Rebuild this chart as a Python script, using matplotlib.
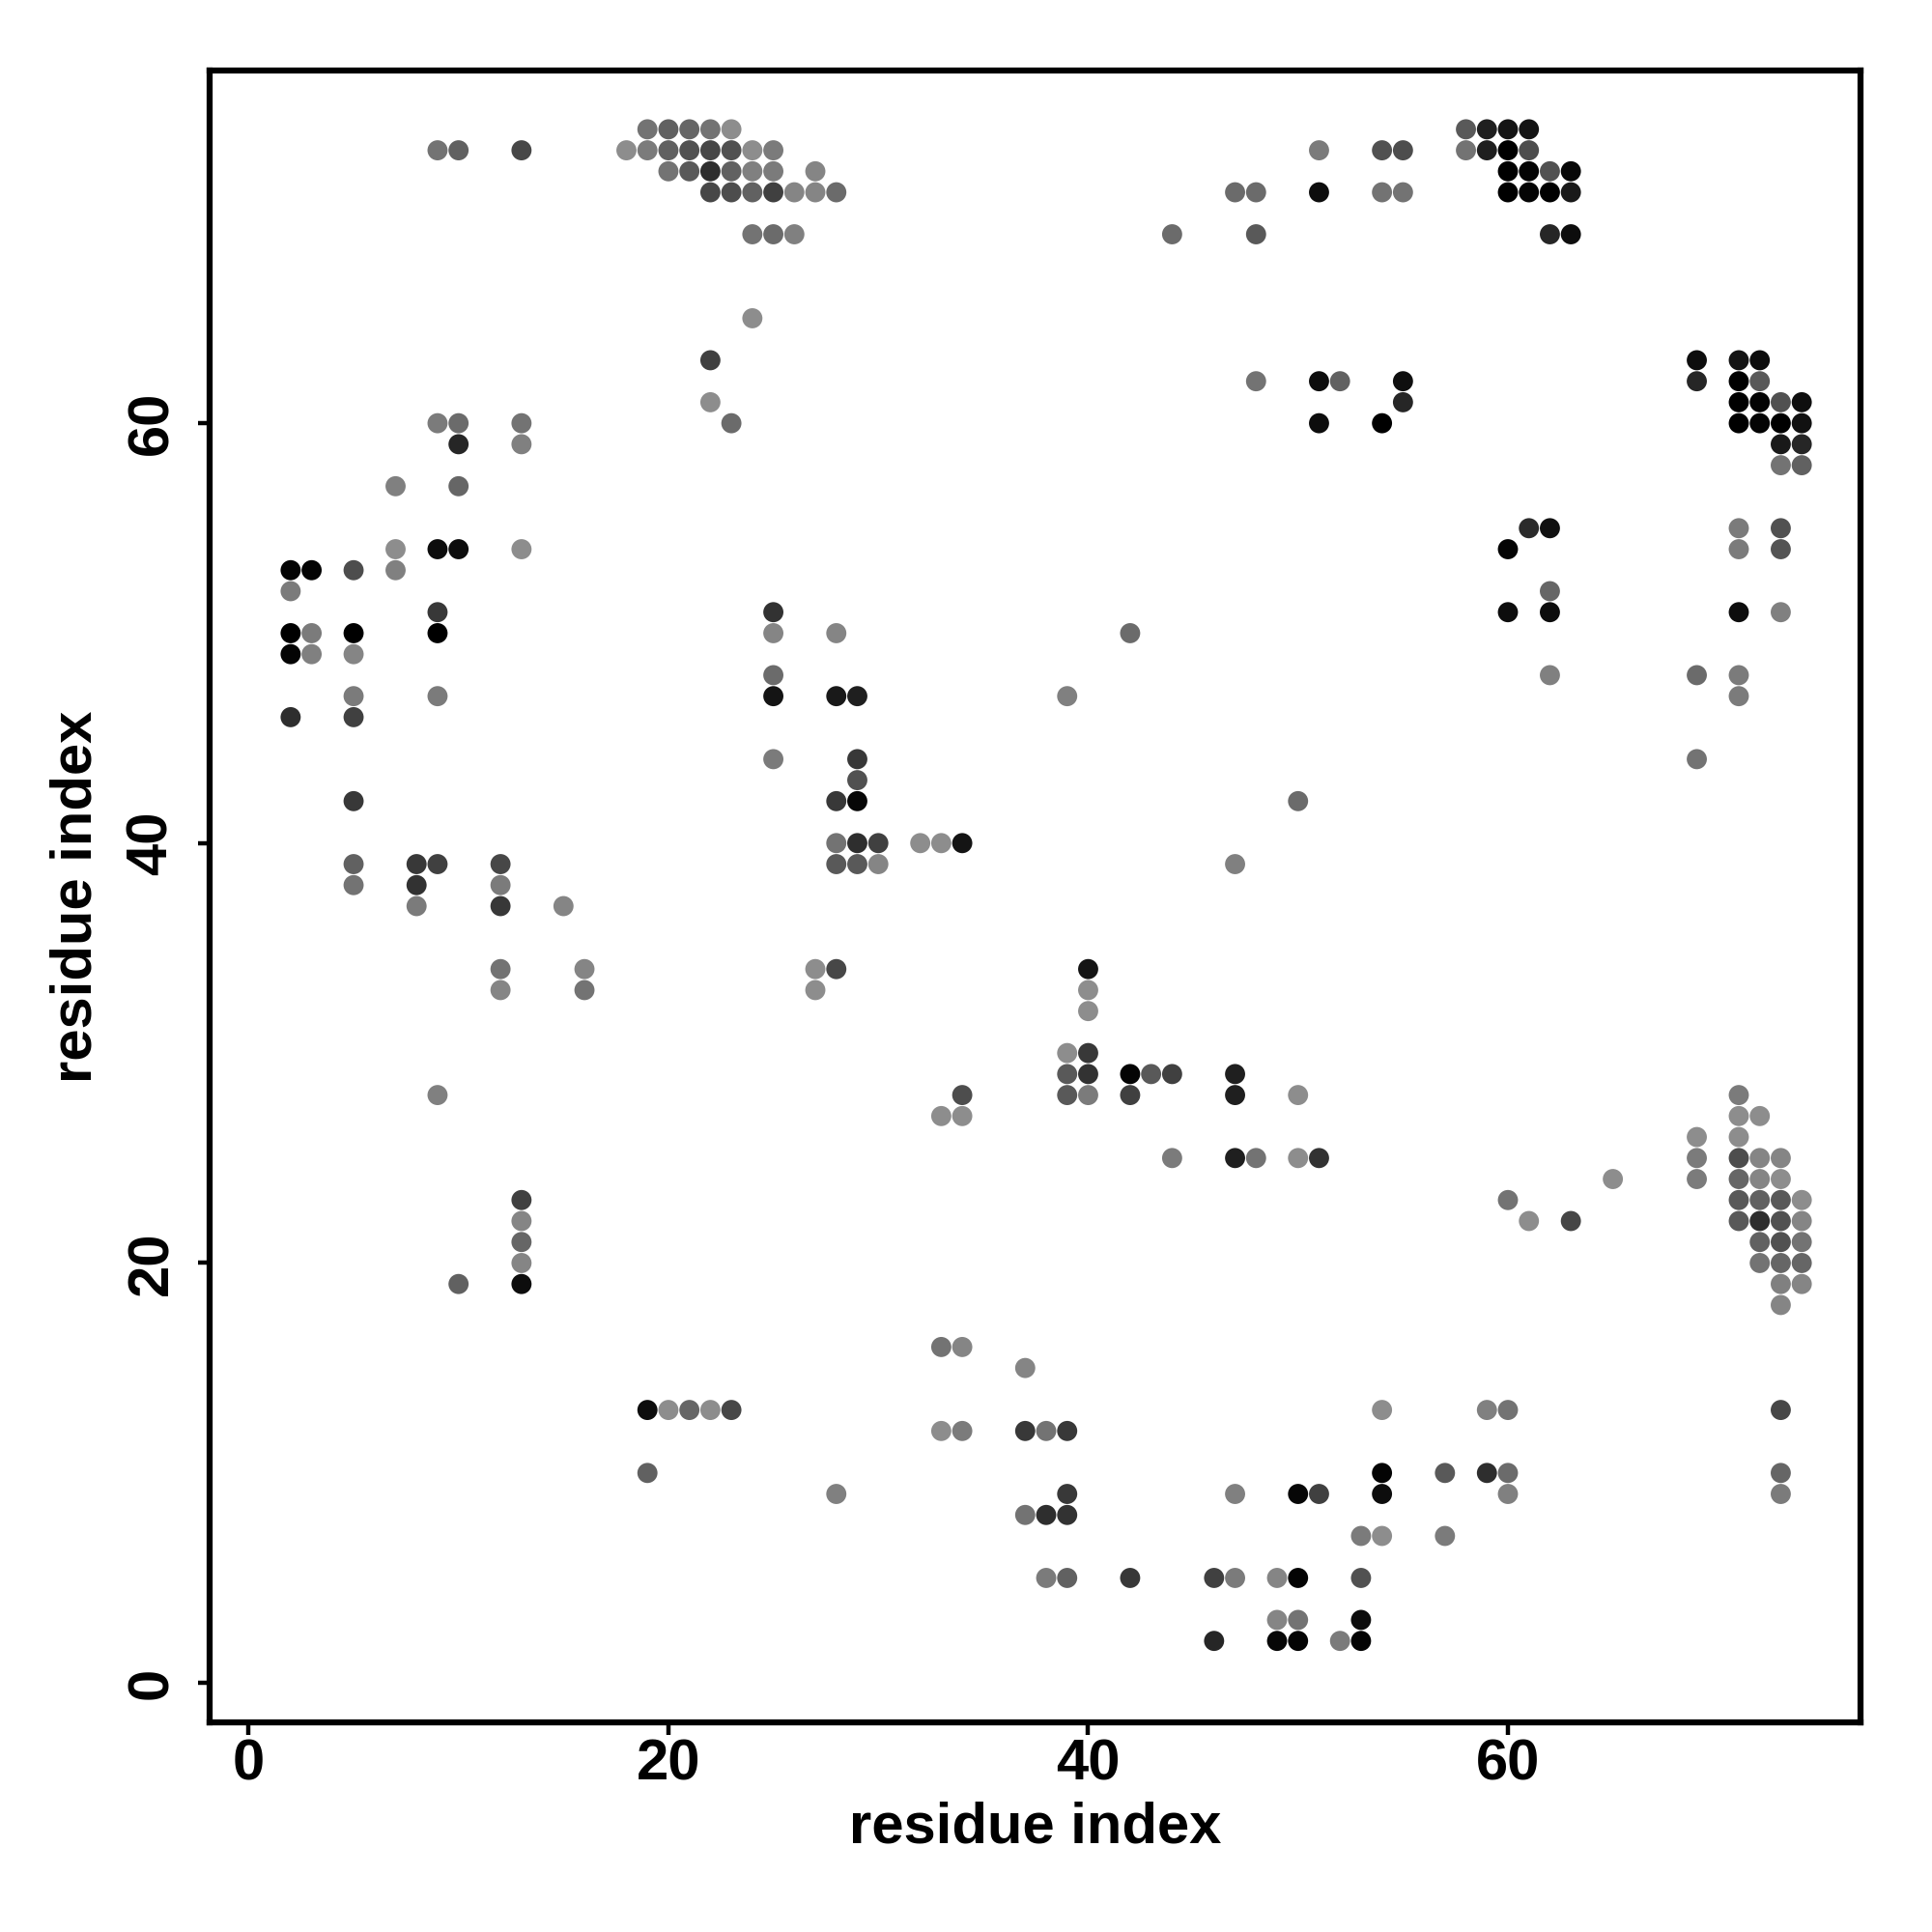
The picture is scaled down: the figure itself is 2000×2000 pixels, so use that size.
import matplotlib
matplotlib.use("Agg")
import matplotlib.pyplot as plt
from matplotlib.colors import LinearSegmentedColormap
import numpy as np

# Contact map: for each residue-index row (y), the partner residues (x) and contact strength
row_y = [74, 73, 72, 71, 69, 65, 63, 62, 61, 60, 59, 58, 57, 55, 54, 53, 52, 51, 50, 49,
         48, 47, 46, 44, 43, 42, 40, 39, 38, 37, 34, 33, 32, 30, 29, 28, 27, 26, 25, 24,
         23, 22, 21, 20, 19, 18, 16, 15, 13, 12, 10, 9, 8, 7, 5, 3, 2]
row_x = [
    [19, 20, 21, 22, 23, 58, 59, 60, 61],
    [9, 10, 13, 18, 19, 20, 21, 22, 23, 24, 25, 51, 54, 55, 58, 59, 60, 61],
    [20, 21, 22, 23, 24, 25, 27, 60, 61, 62, 63],
    [22, 23, 24, 25, 26, 27, 28, 47, 48, 51, 54, 55, 60, 61, 62, 63],
    [24, 25, 26, 44, 48, 62, 63],
    [24],
    [22, 69, 71, 72],
    [48, 51, 52, 55, 69, 71, 72],
    [22, 55, 71, 72, 73, 74],
    [9, 10, 13, 23, 51, 54, 71, 72, 73, 74],
    [10, 13, 73, 74],
    [73, 74],
    [7, 10],
    [61, 62, 71, 73],
    [7, 9, 10, 13, 60, 71, 73],
    [2, 3, 5, 7],
    [2, 62],
    [9, 25, 60, 62, 71, 73],
    [2, 3, 5, 9, 25, 28, 42],
    [2, 3, 5],
    [25, 62, 69, 71],
    [5, 9, 25, 28, 29, 39, 71],
    [2, 5],
    [25, 29, 69],
    [29],
    [5, 28, 29, 50],
    [28, 29, 30, 32, 33, 34],
    [5, 8, 9, 12, 28, 29, 30, 47],
    [5, 8, 12],
    [8, 12, 15],
    [12, 16, 27, 28, 40],
    [12, 16, 27, 40],
    [40],
    [39, 40],
    [39, 40, 42, 43, 44, 47],
    [9, 34, 39, 40, 42, 47, 50, 71],
    [33, 34, 71, 72],
    [69, 71],
    [44, 47, 48, 50, 51, 69, 71, 72, 73],
    [65, 69, 71, 72, 73],
    [13, 60, 71, 72, 73, 74],
    [13, 61, 63, 71, 72, 73, 74],
    [13, 72, 73, 74],
    [13, 72, 73, 74],
    [10, 13, 73, 74],
    [73],
    [33, 34],
    [37],
    [19, 20, 21, 22, 23, 54, 59, 60, 73],
    [33, 34, 37, 38, 39],
    [19, 54, 57, 59, 60, 73],
    [28, 39, 47, 50, 51, 54, 60, 73],
    [37, 38, 39],
    [53, 54, 57],
    [38, 39, 42, 46, 47, 49, 50, 53],
    [49, 50, 53],
    [46, 49, 50, 52, 53],
]
row_p = [
    [.22, .34, .31, .22, .05, .40, .79, .86, .86],
    [.22, .34, .52, .05, .17, .34, .45, .52, .45, .05, .17, .17, .45, .48, .22, .79, 1.0, .48],
    [.22, .40, .69, .34, .14, .17, .10, 1.0, .97, .45, .95],
    [.52, .48, .34, .57, .10, .10, .28, .28, .28, .91, .22, .22, 1.0, .97, 1.0, .83],
    [.22, .28, .14, .28, .40, .74, .91],
    [.05],
    [.57, .91, .86, .91],
    [.22, .91, .34, .90, .74, 1.0, .40],
    [.05, .74, 1.0, .97, .45, .90],
    [.17, .28, .22, .28, .91, 1.0, 1.0, .97, 1.0, .88],
    [.74, .14, .83, .74],
    [.22, .34],
    [.14, .31],
    [.71, .88, .17, .45],
    [.05, .91, .91, .05, .97, .17, .43],
    [.97, .97, .48, .14],
    [.17, .31],
    [.62, .66, .91, .91, .91, .14],
    [1.0, .17, 1.0, 1.0, .10, .10, .28],
    [.97, .14, .10],
    [.28, .14, .28, .17],
    [.17, .17, .86, .83, .79, .14, .17],
    [.69, .57],
    [.17, .62, .22],
    [.45],
    [.62, .62, .95, .28],
    [.22, .69, .57, .05, .05, .86],
    [.34, .62, .57, .52, .40, .40, .10, .14],
    [.22, .66, .17],
    [.17, .62, .10],
    [.22, .10, .05, .52, .86],
    [.10, .22, .05, .05],
    [.05],
    [.05, .62],
    [.40, .66, .97, .40, .57, .79],
    [.14, .48, .40, .17, .57, .79, .05, .17],
    [.05, .05, .05, .05],
    [.05, .05],
    [.17, .79, .22, .05, .66, .17, .48, .10, .10],
    [.05, .17, .31, .10, .05],
    [.57, .22, .40, .34, .40, .05],
    [.10, .05, .53, .40, .69, .45, .10],
    [.31, .34, .45, .22],
    [.10, .22, .31, .31],
    [.34, .91, .14, .10],
    [.10],
    [.22, .10],
    [.10],
    [.91, .05, .31, .05, .52, .05, .14, .22, .52],
    [.05, .17, .62, .22, .62],
    [.34, .97, .40, .69, .28, .31],
    [.14, .62, .14, .95, .57, .91, .14, .17],
    [.22, .69, .66],
    [.17, .05, .17],
    [.17, .34, .62, .57, .17, .10, .97, .45],
    [.10, .22, .91],
    [.74, .95, .97, .17, .97],
]
tick_values = [0, 20, 40, 60]
x_label = "residue index"
y_label = "residue index"

xs, ys, ps = [], [], []
for yv, xr, pr in zip(row_y, row_x, row_p):
    xs.extend(xr)
    ys.extend([yv] * len(xr))
    ps.extend(pr)
xs = np.array(xs); ys = np.array(ys); ps = np.array(ps)

plt.rcParams['font.family'] = ['Liberation Sans', 'DejaVu Sans']
plt.rcParams['font.weight'] = 'bold'

fig = plt.figure(figsize=(20, 20), dpi=100)
ax = fig.add_axes([0.1085, 0.1085, 0.8545, 0.855])

cmap = LinearSegmentedColormap.from_list("grey_to_black", [(0.58, 0.58, 0.58), (0.0, 0.0, 0.0)])
ax.scatter(xs, ys, c=ps, cmap=cmap, vmin=0, vmax=1, s=225, linewidths=0, zorder=3)

ax.set_xlim(-1.86, 76.8)
ax.set_ylim(-1.88, 76.8)
ax.set_xticks(tick_values)
ax.set_yticks(tick_values)
ax.set_xticklabels([str(v) for v in tick_values], fontsize=43, fontweight='bold')
ax.set_yticklabels([str(v) for v in tick_values], fontsize=43, fontweight='bold',
                   rotation=90, va='center', ha='right')
ax.tick_params(axis='x', length=9, width=3.2, pad=3)
ax.tick_params(axis='y', length=9, width=3.2, pad=14)
for sp in ax.spines.values():
    sp.set_linewidth(4.5)
    sp.set_color('black')

ax.set_xlabel(x_label, fontsize=43, fontweight='bold')
ax.set_ylabel(y_label, fontsize=43, fontweight='bold')
ax.xaxis.set_label_coords(0.5, -0.064)
ax.yaxis.set_label_coords(-0.0807, 0.5)
ax.xaxis.label.set_va('center')
ax.yaxis.label.set_va('center')
ax.yaxis.label.set_ha('center')

fig.savefig("out.png", dpi=100, facecolor='white')
